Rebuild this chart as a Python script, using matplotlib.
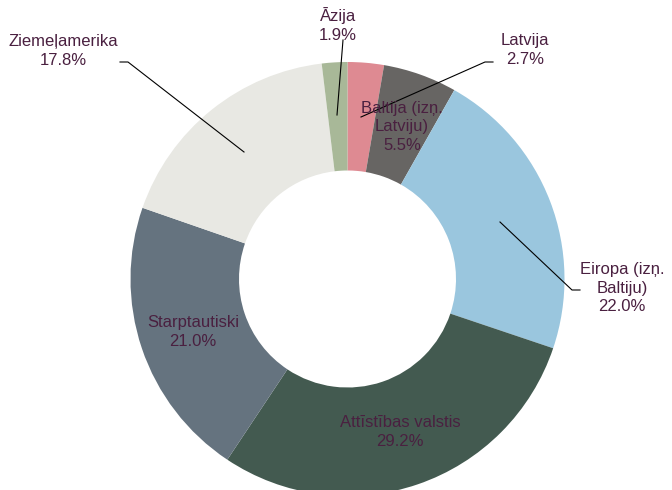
import matplotlib.pyplot as plt

plt.rcParams['font.family'] = ['Liberation Sans', 'DejaVu Sans']

# dati
nosaukumi = ['Latvija', 'Baltija (izņ.\nLatviju)', 'Eiropa (izņ.\nBaltiju)',
             'Attīstības valstis', 'Starptautiski', 'Ziemeļamerika', 'Āzija']
vertibas = [2.7, 5.5, 22.0, 29.2, 21.0, 17.8, 1.9]
krasas = ['#DE8A92', '#676563', '#9AC6DE', '#435A50', '#65737F', '#E8E8E3', '#A8B898']
teksta_krasa = '#4A2040'

fig = plt.figure(figsize=(6.72, 4.9), dpi=100)
ax = fig.add_axes([0, 0, 1, 1])

cx, cy, R = 347.5, 211, 217
ax.pie(vertibas, colors=krasas, startangle=90, counterclock=False,
       center=(cx, cy), radius=R, wedgeprops=dict(width=R * 0.5, linewidth=0),
       frame=True)
ax.set_xlim(0, 672)
ax.set_ylim(0, 490)
ax.set_aspect('equal')
ax.axis('off')

etiketes = [f'{n}\n{v:.1f}%' for n, v in zip(nosaukumi, vertibas)]

# etiķešu vietas (pikseļos no apakšas) un līnijas
vietas = [(525, 440), (402, 363), (622, 202), (400, 58), (193, 158), (63, 439), (338, 465)]
linijas = {
    0: [(493, 428), (485, 428), (361, 373)],
    5: [(120, 428), (128, 428), (244, 338)],
    6: [(343, 450), (337, 375)],
    2: [(580, 200), (572, 200), (500, 268)],
}
for txt, (x, y) in zip(etiketes, vietas):
    ax.text(x, y, txt, ha='center', va='center', fontsize=12, color=teksta_krasa,
            linespacing=1.3)
for pts in linijas.values():
    xs, ys = zip(*pts)
    ax.plot(xs, ys, color='black', lw=0.8)

fig.savefig('out.png', dpi=100)
